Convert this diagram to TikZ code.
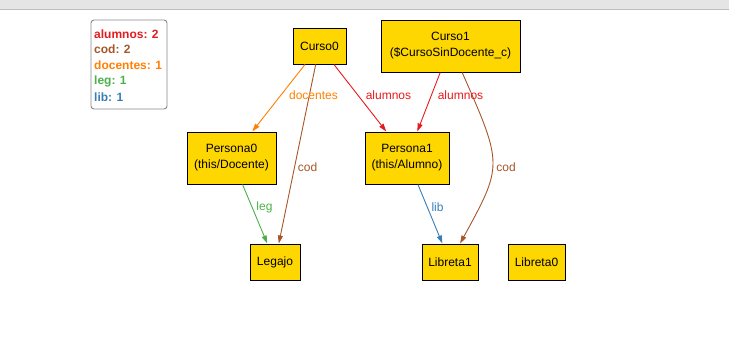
\documentclass[tikz,border=0pt]{standalone}
\usepackage{fontspec}
\setmainfont{Liberation Sans}
\usetikzlibrary{arrows.meta}
\definecolor{gold}{HTML}{FFD700}
\definecolor{cred}{HTML}{E41A1C}
\definecolor{corange}{HTML}{FF7F00}
\definecolor{cgreen}{HTML}{4DAF4A}
\definecolor{cblue}{HTML}{377EB8}
\definecolor{cbrown}{HTML}{A65628}
\begin{document}
\begin{tikzpicture}[x=1pt,y=-1pt,
  atom/.style={draw=black, fill=gold, line width=1pt, inner sep=0pt, align=center,
    font=\fontsize{12}{16}\selectfont},
  rel/.style={line width=0.9pt, -{Triangle[length=8pt,width=5pt]}},
  lbl/.style={inner sep=0pt, font=\fontsize{12}{14}\selectfont},
  legline/.style={anchor=west, inner sep=0pt, font=\bfseries\fontsize{12}{14}\selectfont}]
\useasboundingbox (0,0) rectangle (729,354);
% window bar
\fill[fill={rgb,255:red,229;green,229;blue,229}] (0,0) rectangle (729,9);
\draw[line width=1pt, draw={rgb,255:red,190;green,190;blue,190}] (0,9.5) -- (729,9.5);

% legend
\node[draw={rgb,255:red,136;green,136;blue,136}, line width=0.9pt, rounded corners=3pt,
  minimum width=76pt, minimum height=89pt, inner sep=0pt] (legend) at (129,64.5) {};
\node[legline, text=cred] (lga) at (94,34.3) {alumnos: 2};
\node[legline, text=cbrown] (lgc) at (94,49.5) {cod: 2};
\node[legline, text=corange] (lgd) at (94,65.5) {docentes: 1};
\node[legline, text=cgreen] (lgl) at (94,81.5) {leg: 1};
\node[legline, text=cblue] (lgb) at (94,97) {lib: 1};

% atoms
\node[atom, minimum width=53pt, minimum height=36pt] (c0) at (319.5,46) {Curso0};
\node[atom, minimum width=139pt, minimum height=52pt] (c1) at (450.5,46) {Curso1\\(\$CursoSinDocente\_c)};
\node[atom, minimum width=89pt, minimum height=52pt] (p0) at (231.5,158) {Persona0\\(this/Docente)};
\node[atom, minimum width=84pt, minimum height=52pt] (p1) at (407,158) {Persona1\\(this/Alumno)};
\node[atom, minimum width=50pt, minimum height=36pt] (leg) at (275,262) {Legajo};
\node[atom, minimum width=56pt, minimum height=36pt] (lb1) at (450,262) {Libreta1};
\node[atom, minimum width=57pt, minimum height=36pt] (lb0) at (536.5,262) {Libreta0};

% relations
\draw[rel, corange] (c0) -- (p0);
\draw[rel, cbrown] (c0) -- (leg);
\draw[rel, cred] (c0) -- (p1);
\draw[rel, cred] (c1) -- (p1);
\draw[rel, cbrown] (c1) .. controls (503,165) and (503,165) .. (lb1);
\draw[rel, cgreen] (p0) -- (leg);
\draw[rel, cblue] (p1) -- (lb1);

% relation labels
\node[lbl, text=corange] (ld) at (313.5,95) {docentes};
\node[lbl, text=cred] (la0) at (388.5,95) {alumnos};
\node[lbl, text=cred] (la1) at (460.5,95) {alumnos};
\node[lbl, text=cbrown] (lc0) at (307.5,167) {cod};
\node[lbl, text=cbrown] (lc1) at (506,167) {cod};
\node[lbl, text=cgreen] (ll) at (264.5,207) {leg};
\node[lbl, text=cblue] (lb) at (437.5,207) {lib};
\end{tikzpicture}
\end{document}
